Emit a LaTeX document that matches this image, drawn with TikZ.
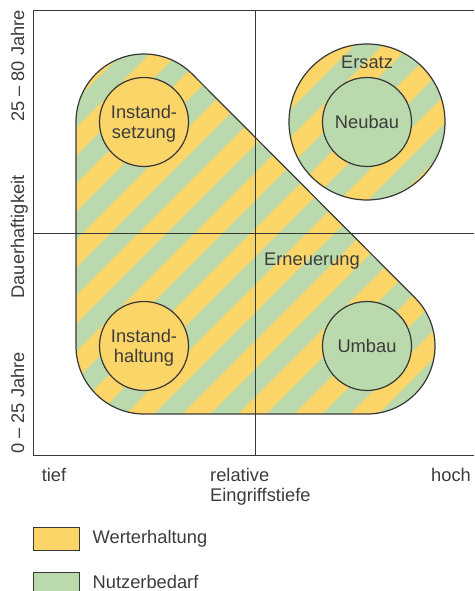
\documentclass[tikz,border=0pt]{standalone}
\usepackage{fontspec}
\setmainfont{Liberation Sans}
\usetikzlibrary{positioning}

\definecolor{wert}{RGB}{252,213,104}
\definecolor{nutz}{RGB}{186,217,172}
\definecolor{linie}{RGB}{55,55,55}
\definecolor{schrift}{RGB}{60,60,60}

\begin{document}
\begin{tikzpicture}
        [
            x=1pt, y=1pt,
            txt/.style={text=schrift, font=\fontsize{18.3}{20}\selectfont, inner sep=0pt},
            massnahme/.style={circle, draw=linie, line width=1.2pt, minimum size=89pt, inner sep=0pt,
                txt, align=center, text depth=0pt},
            legbox/.style={draw=linie, line width=0.9pt, minimum width=46pt, minimum height=23pt, inner sep=0pt},
            achse/.style={draw=linie, line width=1pt},
        ]
            \useasboundingbox (0,0) rectangle (474,591);
            \fill[white] (0,0) rectangle (474,591);

            % Erneuerung: gestreifte Flaeche
            \begin{scope}
                \clip (76,469) -- (76,245) arc[start angle=180, end angle=270, radius=68]
                    -- (367,177) arc[start angle=270, end angle=405, radius=68]
                    -- (192.08,517.08) arc[start angle=45, end angle=180, radius=68] -- cycle;
                \fill[nutz] (0,100) rectangle (474,591);
                \foreach \k in {-9,...,7} {
                    \pgfmathsetmacro\a{-107+56*\k}
                    \fill[wert] ({\a+100},100) -- ({\a+600},600) -- ({\a+628},600) -- ({\a+128},100) -- cycle;
                }
            \end{scope}
            \draw[draw=linie, line width=1.2pt] (76,469) -- (76,245) arc[start angle=180, end angle=270, radius=68]
                -- (367,177) arc[start angle=270, end angle=405, radius=68]
                -- (192.08,517.08) arc[start angle=45, end angle=180, radius=68] -- cycle;

            % Ersatz: gestreifter Ring
            \begin{scope}
                \clip (367,469) circle[radius=78];
                \fill[nutz] (280,380) rectangle (460,560);
                \foreach \k in {-9,...,7} {
                    \pgfmathsetmacro\a{-107+56*\k}
                    \fill[wert] ({\a+100},100) -- ({\a+600},600) -- ({\a+628},600) -- ({\a+128},100) -- cycle;
                }
            \end{scope}
            \node[circle, draw=linie, line width=1.2pt, minimum size=156pt, inner sep=0pt] (ersatz) at (367,469) {};
            \node[txt] (ersatzT) at (367,529) {Ersatz};

            % Achsen
            \draw[achse] (474,580) -- (33,580) -- (33,135) -- (474,135);
            \draw[achse] (255,580) -- (255,135);
            \draw[achse] (33,357) -- (474,357);

            % Massnahmen
            \node[massnahme, fill=wert] (setz) at (144,469) {Instand-\\setzung};
            \node[massnahme, fill=wert] (halt) at (144,245) {Instand-\\haltung};
            \node[massnahme, fill=nutz] (umbau) at (367,245) {Umbau};
            \node[massnahme, fill=nutz] (neubau) at (367,469) {Neubau};
            \node[txt] (erneu) at (312,330) {Erneuerung};

            % Beschriftung
            \node[txt, rotate=90, anchor=base] (dauerO) at (24,525) {25 – 80 Jahre};
            \node[txt, rotate=90, anchor=base] (dauer) at (24,354) {Dauerhaftigkeit};
            \node[txt, rotate=90, anchor=base] (dauerU) at (24,188) {0 – 25 Jahre};
            \node[txt, anchor=base] (tief) at (54,109) {tief};
            \node[txt, anchor=north west, align=left] (tiefe) at (210,122.5) {relative\\Eingriffstiefe};
            \node[txt, anchor=base] (hoch) at (451,109) {hoch};

            % Legende
            \node[legbox, fill=wert] (lw) at (56,52.5) {};
            \node[txt, right=13pt of lw] (lwT) {Werterhaltung};
            \node[legbox, fill=nutz] (ln) at (56,7.5) {};
            \node[txt, right=13pt of ln, yshift=2pt] (lnT) {Nutzerbedarf};
        \end{tikzpicture}
\end{document}
